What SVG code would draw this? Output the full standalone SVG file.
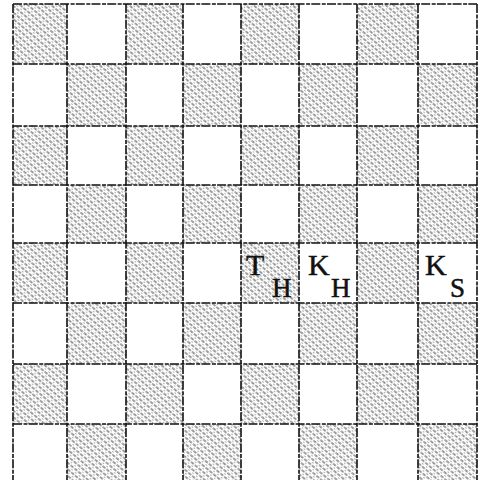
<svg xmlns="http://www.w3.org/2000/svg" width="486" height="480" viewBox="0 0 486 480">
<defs>
<pattern id="hatch" width="5" height="5" patternUnits="userSpaceOnUse" patternTransform="rotate(40)">
<line x1="0" y1="1" x2="5" y2="1" stroke="#222" stroke-width="1.2" stroke-dasharray="1.6 1.6"/>
<circle cx="2" cy="3.6" r="0.5" fill="#333"/>
</pattern>
</defs>
<style>
.d{fill:url(#hatch);}
.g{stroke:#111;stroke-width:1.6;stroke-dasharray:9 1.5 4 1.2;fill:none;}
.t{font-family:"Liberation Serif","DejaVu Serif",serif;fill:#111;stroke:#111;stroke-width:0.5;}
.big{font-size:30px;}
.sub{font-size:27px;}
</style>
<rect x="0" y="0" width="486" height="480" fill="#fff"/>
<g id="squares">
<rect class="d" x="13" y="4" width="54" height="60"/>
<rect class="d" x="126" y="4" width="57" height="60"/>
<rect class="d" x="241" y="4" width="58" height="60"/>
<rect class="d" x="357" y="4" width="61" height="60"/>
<rect class="d" x="67" y="64" width="59" height="62"/>
<rect class="d" x="183" y="64" width="58" height="62"/>
<rect class="d" x="299" y="64" width="58" height="62"/>
<rect class="d" x="418" y="64" width="59" height="62"/>
<rect class="d" x="13" y="126" width="54" height="59"/>
<rect class="d" x="126" y="126" width="57" height="59"/>
<rect class="d" x="241" y="126" width="58" height="59"/>
<rect class="d" x="357" y="126" width="61" height="59"/>
<rect class="d" x="67" y="185" width="59" height="58"/>
<rect class="d" x="183" y="185" width="58" height="58"/>
<rect class="d" x="299" y="185" width="58" height="58"/>
<rect class="d" x="418" y="185" width="59" height="58"/>
<rect class="d" x="13" y="243" width="54" height="60"/>
<rect class="d" x="126" y="243" width="57" height="60"/>
<rect class="d" x="241" y="243" width="58" height="60"/>
<rect class="d" x="357" y="243" width="61" height="60"/>
<rect class="d" x="67" y="303" width="59" height="61"/>
<rect class="d" x="183" y="303" width="58" height="61"/>
<rect class="d" x="299" y="303" width="58" height="61"/>
<rect class="d" x="418" y="303" width="59" height="61"/>
<rect class="d" x="13" y="364" width="54" height="60"/>
<rect class="d" x="126" y="364" width="57" height="60"/>
<rect class="d" x="241" y="364" width="58" height="60"/>
<rect class="d" x="357" y="364" width="61" height="60"/>
<rect class="d" x="67" y="424" width="59" height="60"/>
<rect class="d" x="183" y="424" width="58" height="60"/>
<rect class="d" x="299" y="424" width="58" height="60"/>
<rect class="d" x="418" y="424" width="59" height="60"/>
</g>
<g id="grid">
<line class="g" x1="13" y1="4" x2="13" y2="480"/>
<line class="g" x1="67" y1="4" x2="67" y2="480"/>
<line class="g" x1="126" y1="4" x2="126" y2="480"/>
<line class="g" x1="183" y1="4" x2="183" y2="480"/>
<line class="g" x1="241" y1="4" x2="241" y2="480"/>
<line class="g" x1="299" y1="4" x2="299" y2="480"/>
<line class="g" x1="357" y1="4" x2="357" y2="480"/>
<line class="g" x1="418" y1="4" x2="418" y2="480"/>
<line class="g" x1="477" y1="4" x2="477" y2="480"/>
<line class="g" x1="13" y1="4" x2="477" y2="4"/>
<line class="g" x1="13" y1="64" x2="477" y2="64"/>
<line class="g" x1="13" y1="126" x2="477" y2="126"/>
<line class="g" x1="13" y1="185" x2="477" y2="185"/>
<line class="g" x1="13" y1="243" x2="477" y2="243"/>
<line class="g" x1="13" y1="303" x2="477" y2="303"/>
<line class="g" x1="13" y1="364" x2="477" y2="364"/>
<line class="g" x1="13" y1="424" x2="477" y2="424"/>
</g>
<g id="TH">
<text class="t big" x="246" y="275">T</text>
<text class="t sub" x="272" y="297">H</text>
</g>
<g id="KH">
<text class="t big" x="308" y="275">K</text>
<text class="t sub" x="331" y="297">H</text>
</g>
<g id="KS">
<text class="t big" x="425" y="275">K</text>
<text class="t sub" x="450" y="297">S</text>
</g>
</svg>
